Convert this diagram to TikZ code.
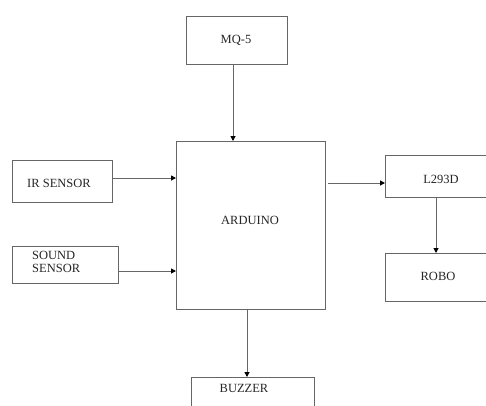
\documentclass[tikz,border=0pt]{standalone}
\usepackage{fontspec}
\setmainfont{Liberation Serif}
\usetikzlibrary{arrows.meta}
\begin{document}
\begin{tikzpicture}[x=1pt,y=-1pt,
  box/.style={draw=black!60,line width=1pt,rectangle,inner sep=0pt,anchor=north west},
  lbl/.style={font=\fontsize{12.5}{13}\selectfont,text=black!85,inner sep=0pt},
  arr/.style={draw=black!60,line width=1pt,-{Triangle[length=5pt,width=5pt,color=black]}}]
\useasboundingbox (0,0) rectangle (486,405);
\fill[white] (0,0) rectangle (486,405);
% boxes
\node[box,minimum width=101pt,minimum height=48pt] (mq) at (186,16) {};
\node[box,minimum width=149pt,minimum height=168pt] (ard) at (176,141) {};
\node[box,minimum width=100pt,minimum height=42pt] (ir) at (12,160) {};
\node[box,minimum width=106pt,minimum height=37pt] (snd) at (12,246) {};
\node[box,minimum width=112pt,minimum height=42pt] (l293) at (385,155) {};
\node[box,minimum width=112pt,minimum height=48pt] (robo) at (385,253) {};
\node[box,minimum width=123pt,minimum height=60pt] (buz) at (191,377) {};
% texts
\node[lbl] (tmq) at (236,40) {MQ-5};
\node[lbl] (tard) at (250,220) {ARDUINO};
\node[lbl] (tir) at (59,183) {IR SENSOR};
\node[lbl,align=left,anchor=west,font=\fontsize{12.5}{12.5}\selectfont] (tsnd) at (32,262) {SOUND\\SENSOR};
\node[lbl] (tl) at (441,179) {L293D};
\node[lbl] (trobo) at (438,276) {ROBO};
\node[lbl] (tbuz) at (244,388) {BUZZER};
% connectors
\coordinate (a1) at (233,141);
\draw[arr] (mq.south -| a1) -- (a1);
\coordinate (a2) at (176,178);
\draw[arr] (ir.east |- a2) -- (a2);
\coordinate (a3) at (176,271);
\draw[arr] (snd.east |- a3) -- (a3);
\coordinate (a4s) at (328,183);
\draw[arr] (a4s) -- (l293.west |- a4s);
\coordinate (a5) at (436,253);
\draw[arr] (l293.south -| a5) -- (a5);
\coordinate (a6) at (247,377);
\draw[arr] (ard.south -| a6) -- (a6);
\end{tikzpicture}
\end{document}
